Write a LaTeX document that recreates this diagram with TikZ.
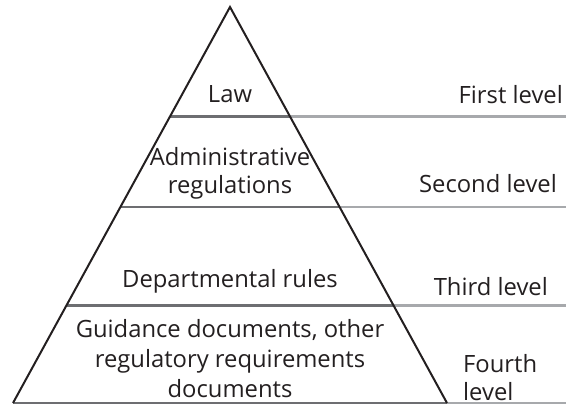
\documentclass[tikz,border=0pt]{standalone}
\usepackage{fontspec}
\setmainfont{Open Sans}
\usetikzlibrary{calc}
\definecolor{txt}{HTML}{231F20}
\definecolor{lvin}{HTML}{6D6E71}
\definecolor{lvout}{HTML}{A7A9AC}
\begin{document}
\begin{tikzpicture}[x=1pt,y=-1pt,
  lbl/.style={inner sep=0pt,text=txt,font=\fontsize{23.8}{29}\selectfont,align=center},
  side/.style={draw=txt,line width=2pt,line join=miter},
  lvlin/.style={draw=lvin,line width=2.6pt},
  lvlout/.style={draw=lvout,line width=2.6pt}]
\useasboundingbox (0,0) rectangle (566,405);
\coordinate (apex) at (230,7);
\coordinate (bl) at (13,403);
\coordinate (br) at (447,403);
% level boundaries
\foreach \t/\n in {0.2765/a,0.505/b,0.754/c,1/d}{
  \coordinate (L\n) at ($(apex)!\t!(bl)$);
  \coordinate (R\n) at ($(apex)!\t!(br)$);
  \coordinate (E\n) at (566,0 |- R\n);
}
\foreach \n in {a,b,c,d}{
  \draw[lvlout] (R\n) -- (E\n);
  \draw[lvlin] (L\n) -- (R\n);
}
\draw[side] (bl) -- (apex) -- (br);
% pyramid labels
\node[lbl,anchor=base] (law) at (230,102) {Law};
\node[lbl,anchor=base] (adm) at (230,165) {Administrative};
\node[lbl,anchor=base] (reg) at (230,193) {regulations};
\node[lbl,anchor=base] (dep) at (230,287) {Departmental rules};
\node[lbl,anchor=base] (gui1) at (230,337) {Guidance documents, other};
\node[lbl,anchor=base] (gui2) at (230,367) {regulatory requirements};
\node[lbl,anchor=base] (gui3) at (230,397) {documents};
% level names
\node[lbl,anchor=base east] (first) at (563,103) {First level};
\node[lbl,anchor=base east] (second) at (557,192) {Second level};
\node[lbl,anchor=base east] (third) at (548,295) {Third level};
\node[lbl,anchor=base west] (fourth1) at (463,372) {Fourth};
\node[lbl,anchor=base west] (fourth2) at (463,400) {level};
\end{tikzpicture}
\end{document}
